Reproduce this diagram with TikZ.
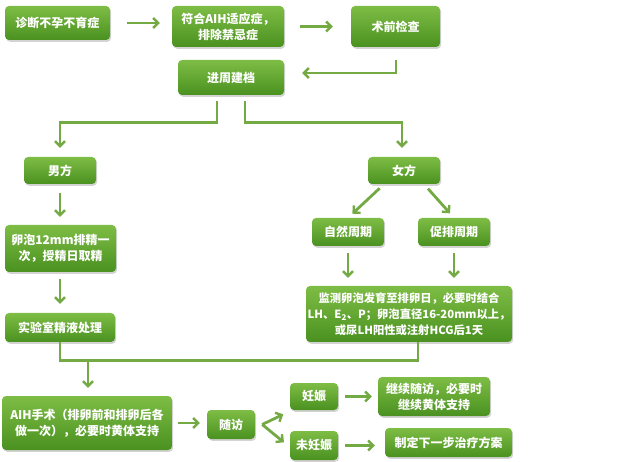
\documentclass[tikz,border=0pt]{standalone}
\usepackage{fontspec}
\setmainfont{Noto Sans CJK SC}
\usetikzlibrary{arrows.meta,shadows}
\definecolor{boxtop}{HTML}{7EBD45}
\definecolor{boxbot}{HTML}{4A9120}
\definecolor{arrcol}{HTML}{74AA44}
\tikzset{
  box/.style={rounded corners=4pt, top color=boxtop, bottom color=boxbot, draw=none,
    text=white, align=center, inner sep=0pt,
    font=\fontsize{12}{16}\selectfont\bfseries,
    drop shadow={opacity=0.35, shadow xshift=1.2pt, shadow yshift=-1.8pt}},
  conn/.style={draw=arrcol, line width=2.8pt},
  arr/.style={conn, -{Straight Barb[length=5pt,width=10pt,line width=2.4pt]}},
}
\begin{document}
\begin{tikzpicture}[x=1pt,y=-1pt]
\useasboundingbox (0,0) rectangle (640,462);
\node[box, minimum width=105, minimum height=34] (b1) at (57.5,23) {诊断不孕不育症};
\node[box, minimum width=112, minimum height=41] (b2) at (228,26.5) {符合AIH适应症，\\排除禁忌症};
\node[box, minimum width=89, minimum height=41] (b3) at (395.5,26.5) {术前检查};
\node[box, minimum width=106, minimum height=35] (b4) at (231,77.5) {进周建档};
\node[box, minimum width=72, minimum height=27] (m) at (60,170.5) {男方};
\node[box, minimum width=72, minimum height=27] (f) at (404,170.5) {女方};
\node[box, minimum width=111, minimum height=47] (l) at (60.5,248.5) {卵泡12mm排精一\\次，授精日取精};
\node[box, minimum width=72, minimum height=28] (z) at (348,232) {自然周期};
\node[box, minimum width=72, minimum height=28] (c) at (454,232) {促排周期};
\node[box, minimum width=206, minimum height=56, font=\fontsize{11.3}{16}\selectfont\bfseries] (j) at (409,314) {监测卵泡发育至排卵日，必要时结合\\LH、E\textsubscript{2}、P；卵泡直径16-20mm以上，\\或尿LH阳性或注射HCG后1天};
\node[box, minimum width=110, minimum height=29] (s) at (60,327.5) {实验室精液处理};
\node[box, minimum width=170, minimum height=54] (a) at (87,423) {AIH手术（排卵前和排卵后各\\做一次），必要时黄体支持};
\node[box, minimum width=48, minimum height=29] (sf) at (231,424.5) {随访};
\node[box, minimum width=48, minimum height=27] (r) at (314,396.5) {妊娠};
\node[box, minimum width=48, minimum height=29] (wr) at (314,445.5) {未妊娠};
\node[box, minimum width=112, minimum height=39] (g) at (434,396.5) {继续随访，必要时\\继续黄体支持};
\node[box, minimum width=127, minimum height=29] (d) at (448.5,442.5) {制定下一步治疗方案};
% connectors
\draw[arr, shorten <=17pt, shorten >=12pt] (b1.east) -- (b1.east -| b2.west);
\draw[arr, shorten <=16pt, shorten >=18pt] (b2.east) -- (b2.east -| b3.west);
\draw[arr, shorten <=13pt, shorten >=18pt] ([xshift=0.5pt]b3.south) |- ([yshift=4.5pt]b4.east);
\draw[arr, shorten <=6pt, shorten >=9pt] ([xshift=-14pt]b4.south) -- ++(0,27) -| (m.north);
\draw[arr, shorten <=6pt, shorten >=9pt] ([xshift=14pt]b4.south) -- ++(0,27) -| ([xshift=-2pt]f.north);
\draw[arr, shorten <=9pt, shorten >=8pt] (m.south) -- (m.south |- l.north);
\draw[arr, shorten <=6pt, shorten >=6pt] ([xshift=-20pt]f.south) -- (z.north);
\draw[arr, shorten <=6pt, shorten >=6pt] ([xshift=20pt]f.south) -- (c.north);
\draw[arr, shorten <=7pt, shorten >=8pt] (z.south) -- (z.south |- j.north);
\draw[arr, shorten <=7pt, shorten >=8pt] (c.south) -- (c.south |- j.north);
\draw[arr, shorten <=7pt, shorten >=9pt] (l.south -| s.north) -- (s.north);
\draw[conn] (s.south) -- ++(0,18) -| ([xshift=9pt]j.south);
\coordinate (mg) at (88,360);
\draw[arr, shorten >=8pt] (mg) -- (mg |- a.north);
\draw[arr, shorten <=6pt, shorten >=7pt] (a.east) -- (a.east -| sf.west);
\coordinate (ap) at ([xshift=7pt]sf.east);
\draw[arr, shorten >=5pt] (ap) -- ([xshift=-2pt,yshift=-2pt]r.south west);
\draw[arr, shorten >=5pt] (ap) -- ([xshift=-2pt]wr.west);
\draw[arr, shorten <=7pt, shorten >=6pt] (r.east) -- (r.east -| g.west);
\draw[arr, shorten <=7pt, shorten >=10pt] (wr.east) -- (wr.east -| d.west);
\end{tikzpicture}
\end{document}
